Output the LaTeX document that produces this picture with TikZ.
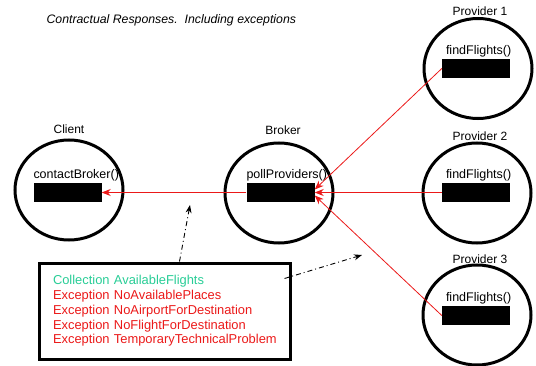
\documentclass[tikz,border=0pt]{standalone}
\usepackage{fontspec}
\setmainfont{Liberation Sans}
\usepackage{xcolor}
\usepackage{tikz}
\usetikzlibrary{shapes.geometric, arrows, arrows.meta, positioning}
\definecolor{respred}{RGB}{235,25,25}
\definecolor{mint}{RGB}{40,205,150}
\tikzstyle{party} = [ellipse, draw, line width=3pt, minimum width=108pt, minimum height=100pt]
\tikzstyle{stub} = [rectangle, fill=black, minimum width=68pt, minimum height=19pt, inner sep=0pt]
\tikzstyle{method} = [inner sep=0pt, font=\fontsize{12.5}{14}\selectfont]
\tikzstyle{role} = [inner sep=0pt, font=\fontsize{12}{14}\selectfont]
\tikzstyle{arrow} = [respred, line width=0.8pt, -{Stealth[length=9pt, width=7pt]}]
\tikzstyle{hint} = [line width=0.9pt, dash pattern=on 5pt off 3pt on 1pt off 3pt, -{Stealth[length=8pt, width=6pt]}]
\tikzstyle{notebox} = [rectangle, draw, line width=3pt, minimum width=251pt, minimum height=96pt, text width=223pt, align=left, inner sep=0pt, font=\fontsize{12.9}{14.8}\selectfont]

\begin{document}
\begin{tikzpicture}[x=1pt, y=1pt]
    \useasboundingbox (0,0) rectangle (536,365);

    \node (title) [anchor=west, font=\fontsize{12.3}{14}\selectfont\itshape] at (43,345) {Contractual Responses.\ \ Including exceptions};

    % Parties
    \node (client) [party] at (69,175) {};
    \node (broker) [party] at (279,172) {};
    \node (prov1) [party] at (478,296.5) {};
    \node (prov2) [party] at (477,172) {};
    \node (prov3) [party] at (477,50) {};

    \node (clientname) [role, above=5pt of client] {Client};
    \node (brokername) [role, above=7pt of broker, xshift=4pt] {Broker};
    \node (prov1name) [role, above=1pt of prov1, xshift=2pt] {Provider 1};
    \node (prov2name) [role, above=1pt of prov2, xshift=3pt] {Provider 2};
    \node (prov3name) [role, above=0pt of prov3, xshift=3pt] {Provider 3};

    % Operations
    \node (clientstub) [stub] at (67.5,172.5) {};
    \node (brokerstub) [stub] at (280.5,172.5) {};
    \node (prov1stub) [stub] at (476,296.5) {};
    \node (prov2stub) [stub] at (476,172.5) {};
    \node (prov3stub) [stub] at (476,49.5) {};

    \node (clientop) [method, above right=2pt and 0pt of clientstub.north west] {contactBroker()};
    \node (brokerop) [method, above right=2pt and 0pt of brokerstub.north west] {pollProviders()};
    \node (prov1op) [method, above right=2pt and 4pt of prov1stub.north west] {findFlights()};
    \node (prov2op) [method, above right=2pt and 4pt of prov2stub.north west] {findFlights()};
    \node (prov3op) [method, above right=2pt and 4pt of prov3stub.north west] {findFlights()};

    % Responses
    \node (note) [notebox] at (164.5,54) {%
        \mbox{\textcolor{mint}{Collection AvailableFlights}}\\
        \mbox{\textcolor{respred}{Exception NoAvailablePlaces}}\\
        \mbox{\textcolor{respred}{Exception NoAirportForDestination}}\\
        \mbox{\textcolor{respred}{Exception NoFlightForDestination}}\\
        \mbox{\textcolor{respred}{Exception TemporaryTechnicalProblem}}};

    % Edges
    \draw[arrow] (prov2stub.west) -- (brokerstub.east);
    \draw[arrow] (brokerstub.west) -- (clientstub.east);
    \draw[arrow] (prov1stub.west) -- ([yshift=3pt]brokerstub.east);
    \draw[arrow] (prov3stub.west) -- ([yshift=-3pt]brokerstub.east);

    \coordinate (hintup) at (190,160);
    \coordinate (hintright) at (362,110);
    \draw[hint] ([xshift=15pt]note.north) -- (hintup);
    \draw[hint] ([shift={(-7pt,-17pt)}]note.north east) -- (hintright);
\end{tikzpicture}
\end{document}
